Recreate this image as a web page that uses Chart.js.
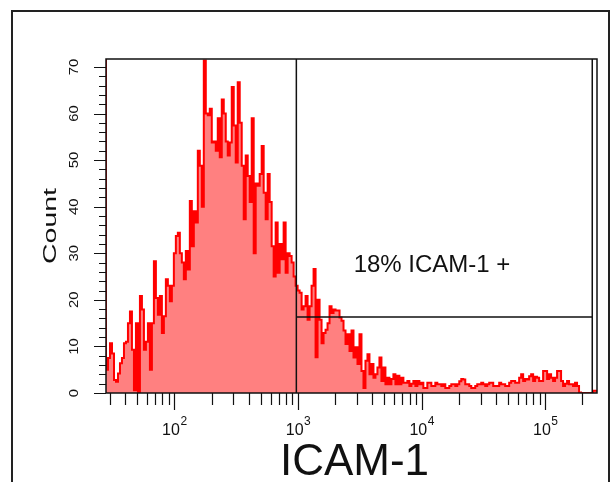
<!DOCTYPE html>
<html>
<head>
<meta charset="utf-8">
<title>ICAM-1 histogram</title>
<script src="https://cdn.jsdelivr.net/npm/chart.js@4.4.1/dist/chart.umd.min.js"></script>
<style>
  html, body { margin: 0; padding: 0; background: #fff; }
  canvas { display: block; }
</style>
</head>
<body>
<canvas id="chart" width="613" height="482"></canvas>
<script>
// channel range of the histogram (FlowJo style log axis)
const xMin = 28;
const xMax = 262144;
const yMax = 71.7;

// counts per channel, left to right (first channel is off scale)
const counts = [
    150, 5, 7.5, 10.7, 8.5, 2.8, 2.4, 4.2, 6.4, 7.5,
    10.7, 11, 15, 17.5, 9.3, 0.6, 15, 0, 20.8, 17.9,
    9.3, 11, 15, 5, 15, 28.3, 20.4, 16.8, 20.8, 12.9,
    16.5, 24.4, 23, 19.7, 23, 30, 33.7, 34.4, 30, 28,
    24.4, 30.5, 26.5, 41.2, 31.5, 39, 36.6, 52, 48.8, 40,
    71.4, 60, 59.6, 61, 53.8, 54, 52, 59, 50.6, 63,
    60, 54, 51, 53.8, 65.7, 57.4, 49.5, 66.7, 58, 48.8,
    37.3, 51, 46.6, 41, 59, 30, 45, 44.5, 47, 53,
    43, 37.3, 47, 41, 31.5, 25, 36.6, 25.8, 32, 28.7,
    36.6, 25.8, 30, 29.4, 28, 25, 23, 22, 21.5, 17.9,
    18.6, 20.8, 15.7, 18.6, 23, 26.6, 7.7, 20, 15.7, 10.7,
    12.9, 13.6, 15, 18.6, 17.2, 17.9, 17.7, 17.7, 16.2, 15.5,
    13.4, 10.5, 12.6, 9, 13.4, 7.6, 9.8, 6.2, 12.6, 4.7,
    1.1, 6.9, 8.3, 4, 6.2, 3.3, 4, 5.5, 7.6, 2.6,
    5.5, 1.9, 3.3, 1.9, 3, 4, 1.9, 3.7, 1.9, 3.3,
    2.2, 2.2, 2.6, 1.5, 2, 2.6, 1.5, 2.6, 1.9, 2.2,
    1.1, 1.1, 2.2, 2.2, 1.5, 1.5, 2.2, 1.9, 1.9, 1.5,
    1.9, 1.1, 1.1, 1.5, 1.9, 1.9, 1.5, 1.9, 2.5, 3,
    2.9, 1.9, 1.9, 1.5, 1.1, 1.1, 1.5, 1.9, 1.9, 2.2,
    1.9, 1.5, 1.9, 2.2, 2.2, 1.5, 1.5, 1.5, 2.2, 1.9,
    1.9, 1.5, 1.5, 2.2, 2.6, 2.6, 2.2, 2.2, 3.3, 4,
    2.6, 3, 2.9, 3.6, 4, 2.6, 3.5, 3.3, 2.6, 2.6,
    4.7, 4.7, 3, 4, 3.3, 2.6, 3.3, 4.7, 4.7, 2.6,
    1.5, 2, 2.6, 1.9, 1.9, 1.5, 2.2, 1.5, 0.1, 0,
    0, 0, 0, 0, 0, 0.5
];

// axis ticks and labels
const yTickValues = [0, 10, 20, 30, 40, 50, 60, 70];
const yMinorStep = 2;
const xTickDecades = [2, 3, 4, 5];   // labelled 10^n
const xMinorMultiples = [2, 3, 4, 5, 6, 7, 8, 9];

// gate
const gateLow = 970;
const gateHigh = 240000;
const gateLevel = 16.3;
const gateLabel = '18% ICAM-1 +';

const xTitle = 'ICAM-1';
const yTitle = 'Count';

const FONT = '"Liberation Sans", Arial, sans-serif';
const INK = '#111';

/**
 * Builds the step points: one per channel start, plus the closing edge.
 */
function buildPoints() {
    const lo = Math.log10(xMin);
    const step = (Math.log10(xMax) - lo) / counts.length;
    const pts = counts.map((c, i) => ({x: Math.pow(10, lo + i * step), y: c}));
    pts.push({x: xMax, y: counts[counts.length - 1]});
    return pts;
}

/**
 * Draws text rotated by -90 degrees, baseline at x.
 */
function drawRotated(ctx, text, x, y, font, stretch) {
    ctx.save();
    ctx.translate(x, y);
    ctx.rotate(-Math.PI / 2);
    ctx.scale(stretch || 1, 1);
    ctx.font = font;
    ctx.textAlign = 'center';
    ctx.textBaseline = 'alphabetic';
    ctx.fillText(text, 0, 0);
    ctx.restore();
}

const facsAxes = {
    id: 'facsAxes',
    afterDatasetsDraw(chart) {
        const {ctx, chartArea: a} = chart;
        const xs = chart.scales.x;
        const ys = chart.scales.y;
        ctx.save();
        ctx.strokeStyle = INK;
        ctx.fillStyle = INK;
        ctx.lineWidth = 1.5;

        // gate lines
        const gx1 = xs.getPixelForValue(gateLow);
        const gx2 = xs.getPixelForValue(gateHigh);
        const gy = ys.getPixelForValue(gateLevel);
        ctx.beginPath();
        ctx.moveTo(gx1, a.top); ctx.lineTo(gx1, a.bottom);
        ctx.moveTo(gx2, a.top); ctx.lineTo(gx2, a.bottom);
        ctx.moveTo(gx1, gy); ctx.lineTo(gx2, gy);
        ctx.stroke();

        // plot frame
        ctx.strokeRect(a.left, a.top, a.right - a.left, a.bottom - a.top);

        // y ticks
        ctx.lineWidth = 1.2;
        ctx.beginPath();
        for (let v = 0; v <= yMax; v += yMinorStep) {
            const py = Math.round(ys.getPixelForValue(v)) + 0.5;
            const len = v % 10 === 0 ? 12 : 7;
            ctx.moveTo(a.left - len, py);
            ctx.lineTo(a.left, py);
        }
        // x ticks
        for (let d = 1; d <= 5; d++) {
            [1].concat(xMinorMultiples).forEach((m) => {
                const v = m * Math.pow(10, d);
                if (v < xMin || v > xMax) {
                    return;
                }
                const px = Math.round(xs.getPixelForValue(v)) + 0.5;
                ctx.moveTo(px, a.bottom);
                ctx.lineTo(px, a.bottom + (m === 1 ? 17 : 12));
            });
        }
        ctx.stroke();

        // y tick labels
        yTickValues.forEach((v) => {
            drawRotated(ctx, String(v), 77.5, ys.getPixelForValue(v), '13.5px ' + FONT, 1.1);
        });

        // x tick labels as 10 with superscript
        xTickDecades.forEach((n) => {
            const px = xs.getPixelForValue(Math.pow(10, n));
            ctx.font = '16px ' + FONT;
            const wBase = ctx.measureText('10').width;
            ctx.font = '12px ' + FONT;
            const wExp = ctx.measureText(String(n)).width;
            const x0 = px - (wBase + wExp) / 2;
            ctx.textAlign = 'left';
            ctx.textBaseline = 'alphabetic';
            ctx.font = '16px ' + FONT;
            ctx.fillText('10', x0, 435);
            ctx.font = '12px ' + FONT;
            ctx.fillText(String(n), x0 + wBase + 0.5, 425);
        });

        // axis titles
        ctx.textAlign = 'center';
        ctx.textBaseline = 'alphabetic';
        ctx.font = '44px ' + FONT;
        ctx.fillText(xTitle, (a.left + a.right) / 2 + 3, 475);
        drawRotated(ctx, yTitle, 55.5, (a.top + a.bottom) / 2, '19px ' + FONT, 1.5);

        // gate label
        ctx.font = '24px ' + FONT;
        ctx.fillText(gateLabel, 432, 272);

        // outer border
        ctx.strokeStyle = '#222';
        ctx.lineWidth = 2;
        ctx.strokeRect(12, 11, 597, 490);
        ctx.restore();
    }
};

new Chart(document.getElementById('chart'), {
    type: 'line',
    data: {
        datasets: [{
            data: buildPoints(),
            stepped: 'after',
            fill: 'origin',
            borderColor: '#ff0000',
            backgroundColor: 'rgb(255, 128, 128)',
            borderWidth: 2,
            pointRadius: 0,
        }],
    },
    options: {
        responsive: false,
        animation: false,
        layout: {padding: {left: 106, top: 59, right: 16, bottom: 89}},
        plugins: {legend: {display: false}, tooltip: {enabled: false}},
        scales: {
            x: {type: 'logarithmic', min: xMin, max: xMax, display: false},
            y: {type: 'linear', min: 0, max: yMax, display: false},
        },
    },
    plugins: [facsAxes],
});
</script>
</body>
</html>
